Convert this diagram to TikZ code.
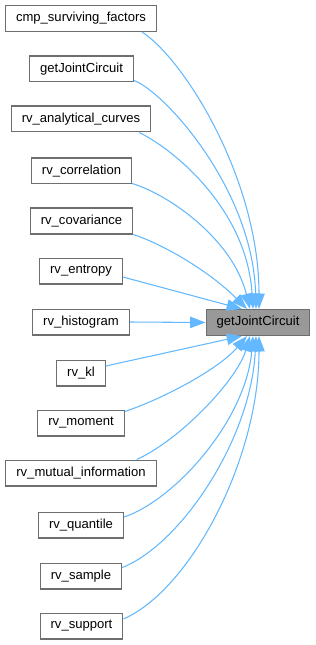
\documentclass[tikz,border=0pt]{standalone}
\usepackage{fontspec}
\setmainfont{Liberation Sans}
\usetikzlibrary{arrows.meta,calc}
\definecolor{edgeblue}{HTML}{63B8FF}
\definecolor{boxgray}{HTML}{6E6E6E}
\definecolor{fillgray}{HTML}{999999}
\tikzset{
  fnode/.style={draw=boxgray, line width=0.9pt, fill=white, inner xsep=7.85pt, inner ysep=0pt,
    minimum height=19.35pt, font=\fontsize{9.8}{12}\selectfont, text=black},
  tnode/.style={fnode, fill=fillgray},
  calledge/.style={draw=edgeblue, line width=0.8pt, -{Triangle[length=11.5pt,width=8.5pt]}},
}
\begin{document}
\begin{tikzpicture}[x=0.75pt,y=-0.75pt]
\useasboundingbox (0,0) rectangle (316,645);
\node[fnode] (n1) at (81,18.5) {cmp\_surviving\_factors};
\node[fnode] (n2) at (81.5,69) {getJointCircuit};
\node[fnode] (n3) at (81,119) {rv\_analytical\_curves};
\node[fnode] (n4) at (81.5,171) {rv\_correlation};
\node[fnode] (n5) at (81.5,221) {rv\_covariance};
\node[fnode] (n6) at (81,271) {rv\_entropy};
\node[fnode] (n7) at (81,322) {rv\_histogram};
\node[fnode] (n8) at (81,373) {rv\_kl};
\node[fnode] (n9) at (81,423) {rv\_moment};
\node[fnode] (n10) at (81,473) {rv\_mutual\_information};
\node[fnode] (n11) at (81,525) {rv\_quantile};
\node[fnode] (n12) at (81,576) {rv\_sample};
\node[fnode] (n13) at (81.5,626) {rv\_support};
\node[tnode] (t) at (258,322.5) {getJointCircuit};

\draw[calledge] ($(n1.south east)+(-15,0)$) .. controls (185,60) and (259,180) .. ($(t.north)+(1,0)$);
\draw[calledge] ($(n2.south east)+(0,-2)$) .. controls (165,92) and (253,190) .. ($(t.north)+(-2,0)$);
\draw[calledge] ($(n3.south east)+(-12,0)$) .. controls (175,150) and (247,210) .. ($(t.north)+(-5,0)$);
\draw[calledge] ($(n4.south east)+(0,-1)$) .. controls (170,195) and (233,240) .. ($(t.north)+(-8,0)$);
\draw[calledge] (n5.south east) .. controls (165,245) and (210,272) .. ($(t.north)+(-11,0)$);
\draw[calledge] ($(n6.east)+(0,6)$) -- ($(t.north)+(-16,0)$);
\draw[calledge] (n7.east) -- (t.west);
\draw[calledge] ($(n8.east)+(0,-7)$) -- ($(t.south)+(-16,0)$);
\draw[calledge] ($(n9.north east)+(0,2)$) .. controls (160,400) and (218,370) .. ($(t.south)+(-11,0)$);
\draw[calledge] ($(n10.north east)+(-20,0)$) .. controls (180,440) and (237,380) .. ($(t.south)+(-8,0)$);
\draw[calledge] ($(n11.east)+(0,-8)$) .. controls (175,500) and (246,420) .. ($(t.south)+(-5,0)$);
\draw[calledge] ($(n12.north east)+(0,5)$) .. controls (180,545) and (251,440) .. ($(t.south)+(-2,0)$);
\draw[calledge] ($(n13.east)+(0,-7)$) .. controls (190,590) and (259,460) .. ($(t.south)+(1,0)$);
\end{tikzpicture}
\end{document}
